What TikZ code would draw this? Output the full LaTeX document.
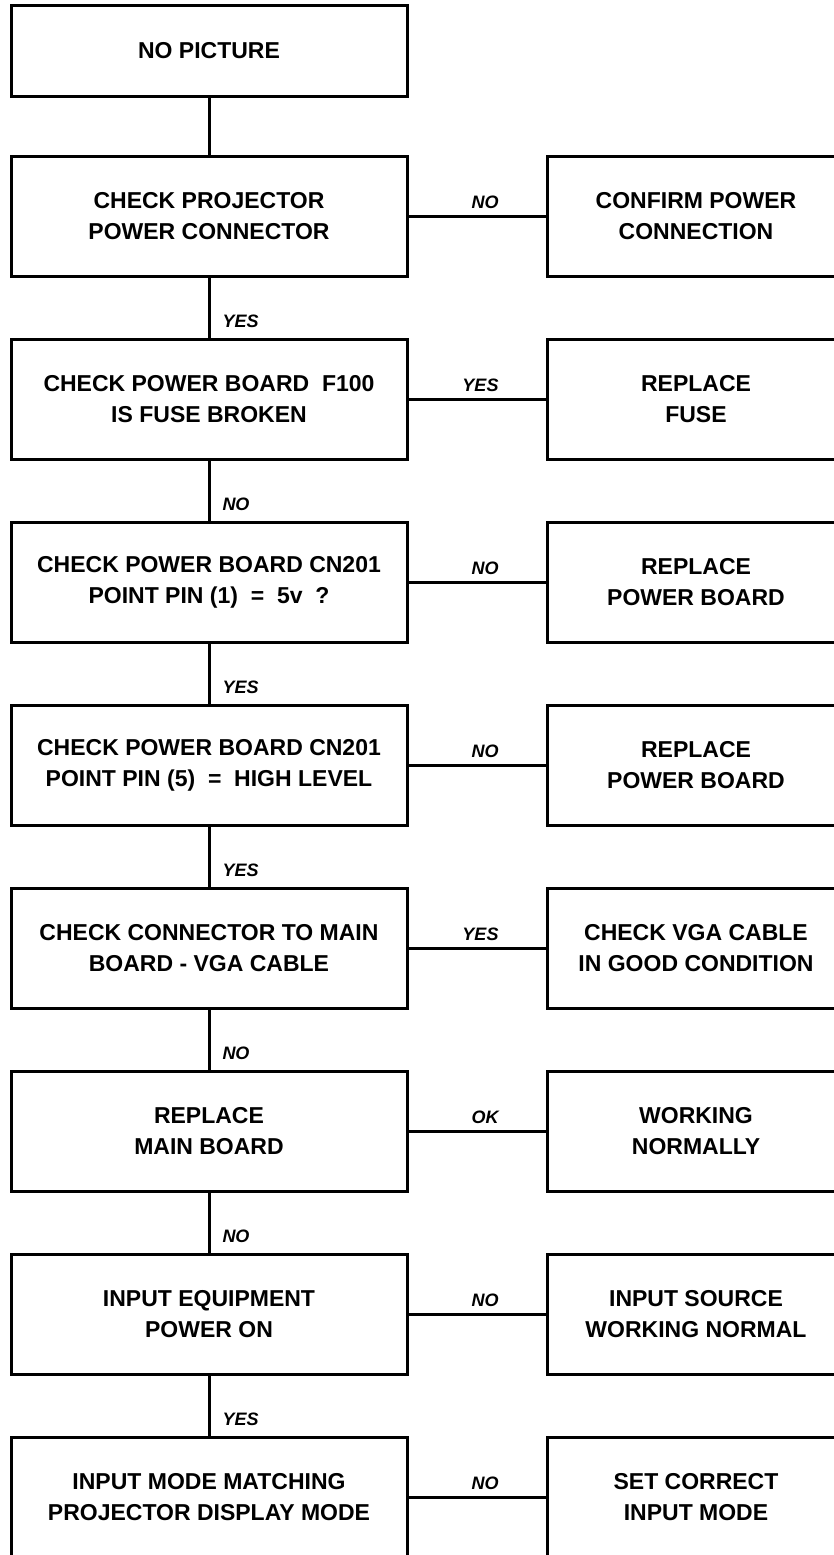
\documentclass[tikz,border=0pt]{standalone}
\usepackage{fontspec}
\setmainfont{Liberation Sans}

\begin{document}
\begin{tikzpicture}[x=1pt,y=-1pt,line width=3pt,
  box/.style={draw,line width=3pt,align=center,inner sep=0pt,
    font=\fontsize{23}{31}\selectfont\bfseries},
  leftbox/.style={box,minimum width=396pt,minimum height=120pt},
  rightbox/.style={box,minimum width=298pt,minimum height=120pt},
  lbl/.style={inner sep=0pt,font=\fontsize{18}{22}\selectfont\bfseries\itshape},
  downlbl/.style={lbl,pos=0.83,anchor=base west,xshift=12pt},
  sidelbl/.style={lbl,anchor=base east,xshift=23pt,yshift=8pt}]
\clip (0,0) rectangle (834,1555);
\node[leftbox,minimum height=90pt] (nopic) at (209,51) {NO PICTURE};
\node[leftbox] (chkplug) at (209,216.5) {CHECK PROJECTOR\\POWER CONNECTOR};
\node[rightbox] (confirm) at (696,216.5) {CONFIRM POWER\\CONNECTION};
\node[leftbox] (chkfuse) at (209,399.5) {CHECK POWER BOARD~~F100\\IS FUSE BROKEN};
\node[rightbox] (fuse) at (696,399.5) {REPLACE\\FUSE};
\node[leftbox] (pinone) at (209,582.5) {CHECK POWER BOARD CN201\\POINT PIN (1)~~=~~5v~~?};
\node[rightbox] (pwrbrdA) at (696,582.5) {REPLACE\\POWER BOARD};
\node[leftbox] (pinfive) at (209,765.5) {CHECK POWER BOARD CN201\\POINT PIN (5)~~=~~HIGH LEVEL};
\node[rightbox] (pwrbrdB) at (696,765.5) {REPLACE\\POWER BOARD};
\node[leftbox] (chkvga) at (209,948.5) {CHECK CONNECTOR TO MAIN\\BOARD - VGA CABLE};
\node[rightbox] (vgacable) at (696,948.5) {CHECK VGA CABLE\\IN GOOD CONDITION};
\node[leftbox] (mainbrd) at (209,1131.5) {REPLACE\\MAIN BOARD};
\node[rightbox] (working) at (696,1131.5) {WORKING\\NORMALLY};
\node[leftbox] (inpwr) at (209,1314.5) {INPUT EQUIPMENT\\POWER ON};
\node[rightbox] (insrc) at (696,1314.5) {INPUT SOURCE\\WORKING NORMAL};
\node[leftbox] (inmode) at (209,1497.5) {INPUT MODE MATCHING\\PROJECTOR DISPLAY MODE};
\node[rightbox] (setmode) at (696,1497.5) {SET CORRECT\\INPUT MODE};
% main line
\draw (nopic.south) -- (chkplug.north);
\draw (chkplug.south) -- node[downlbl] {YES} (chkfuse.north);
\draw (chkfuse.south) -- node[downlbl] {NO} (pinone.north);
\draw (pinone.south) -- node[downlbl] {YES} (pinfive.north);
\draw (pinfive.south) -- node[downlbl] {YES} (chkvga.north);
\draw (chkvga.south) -- node[downlbl] {NO} (mainbrd.north);
\draw (mainbrd.south) -- node[downlbl] {NO} (inpwr.north);
\draw (inpwr.south) -- node[downlbl] {YES} (inmode.north);
% side branches
\draw (chkplug.east) -- node[sidelbl] {NO} (confirm.west);
\draw (chkfuse.east) -- node[sidelbl] {YES} (fuse.west);
\draw (pinone.east) -- node[sidelbl] {NO} (pwrbrdA.west);
\draw (pinfive.east) -- node[sidelbl] {NO} (pwrbrdB.west);
\draw (chkvga.east) -- node[sidelbl] {YES} (vgacable.west);
\draw (mainbrd.east) -- node[sidelbl] {OK} (working.west);
\draw (inpwr.east) -- node[sidelbl] {NO} (insrc.west);
\draw (inmode.east) -- node[sidelbl] {NO} (setmode.west);
\end{tikzpicture}
\end{document}
